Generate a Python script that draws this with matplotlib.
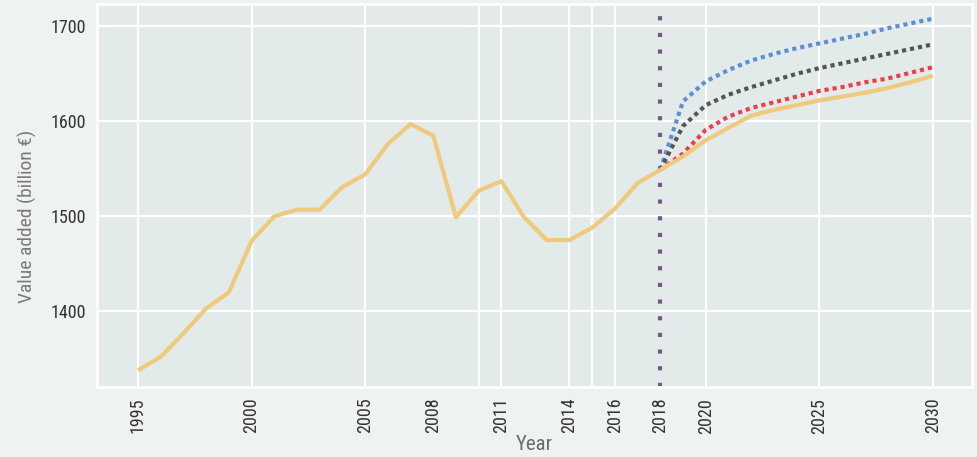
import matplotlib
matplotlib.use("Agg")
import matplotlib.pyplot as plt
from matplotlib import font_manager

# Historical value added (billion €)
hist_years = list(range(1995, 2019))
hist_values = [1338, 1352, 1377, 1403, 1420, 1474, 1500, 1507, 1507, 1531,
               1544, 1576, 1597, 1585, 1499, 1527, 1537, 1499, 1475, 1475,
               1488, 1508, 1535, 1549]

# Projections 2018-2030
proj_years = list(range(2018, 2031))
proj_base = [1549, 1563, 1580, 1593, 1606, 1612, 1617, 1622, 1626, 1630, 1635, 1641, 1648]
proj_red = [1549, 1566, 1591, 1605, 1614, 1620, 1626, 1632, 1636, 1641, 1645, 1651, 1657]
proj_dark = [1549, 1595, 1617, 1628, 1636, 1643, 1650, 1656, 1661, 1666, 1671, 1676, 1681]
proj_blue = [1549, 1621, 1642, 1654, 1664, 1671, 1677, 1682, 1687, 1692, 1698, 1703, 1708]

x_ticks = [1995, 2000, 2005, 2008, 2011, 2014, 2016, 2018, 2020, 2025, 2030]
x_grid = [1995, 2000, 2005, 2010, 2011, 2014, 2015, 2016, 2020, 2025, 2030]
y_ticks = [1400, 1500, 1600, 1700]
cutoff_year = 2018


def pick_condensed():
    """Return a narrow sans family if one is installed."""
    names = {f.name for f in font_manager.fontManager.ttflist}
    for name in ("Liberation Sans Narrow", "Arial Narrow", "Roboto Condensed",
                 "Open Sans Condensed", "Noto Sans Condensed"):
        if name in names:
            return [name]
    return ["Liberation Sans"]


plt.rcParams["font.family"] = pick_condensed() + ["DejaVu Sans"]

fig = plt.figure(figsize=(9.78, 4.57), dpi=100, facecolor="#eef2f1")
ax = fig.add_axes([0.0989, 0.1538, 0.8950, 0.8374])
ax.set_facecolor("#e3ebea")

ax.set_xlim(1993.18, 2031.73)
ax.set_ylim(1320.6, 1723.5)

for xv in x_grid:
    ax.axvline(xv, color="white", lw=1.6, zorder=1)
for yv in y_ticks:
    ax.axhline(yv, color="white", lw=1.6, zorder=1)

for s in ax.spines.values():
    s.set_color("white")
    s.set_linewidth(2)

# Start of the projection period
ax.axvline(cutoff_year, color="#76578a", lw=3, ls=(0, (1, 3)), zorder=2)

dot = (0, (1, 0.95))
ax.plot(proj_years, proj_blue, color="#5e8fd4", lw=3, ls=dot, zorder=3)
ax.plot(proj_years, proj_dark, color="#555555", lw=3, ls=dot, zorder=3)
ax.plot(proj_years, proj_red, color="#ec3f4c", lw=3, ls=dot, zorder=3)
ax.plot(hist_years, hist_values, color="#efc97c", lw=3, zorder=4, solid_capstyle="butt")
ax.plot(proj_years, proj_base, color="#efc97c", lw=3, zorder=4, solid_capstyle="butt")

ax.set_xticks(x_ticks)
ax.set_xticklabels([str(t) for t in x_ticks], rotation=90)
ax.set_yticks(y_ticks)
ax.tick_params(length=0, labelsize=13, colors="#333333", pad=8)

ax.set_xlabel("Year", color="#6b6b6b", fontsize=15, labelpad=1)
ax.set_ylabel("Value added (billion €)", color="#7a7a7a", fontsize=14)
ax.yaxis.set_label_coords(-0.068, 0.446)

fig.savefig("out.png", dpi=100, facecolor=fig.get_facecolor())
